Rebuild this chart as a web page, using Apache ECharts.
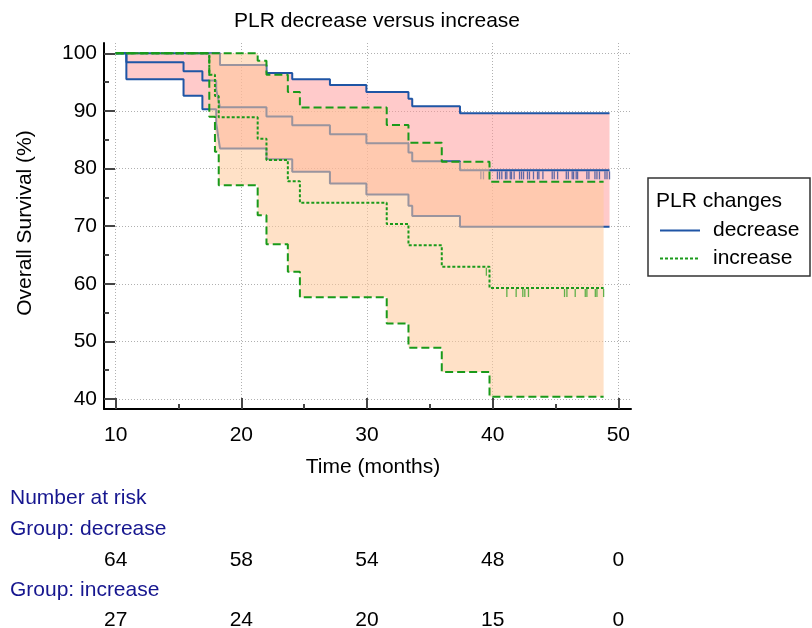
<!DOCTYPE html>
<html><head><meta charset="utf-8">
<script src="https://cdn.jsdelivr.net/npm/echarts@6/dist/echarts.min.js"></script>
<style>html,body{margin:0;padding:0;background:#fff}#c{width:812px;height:628px}</style>
</head><body><div id="c"></div>
<script>
// ---- tick labels ----
const xTicks = [10, 20, 30, 40, 50];
const xMinorTicks = [15, 25, 35, 45];
const yTicks = [40, 50, 60, 70, 80, 90, 100];
const yMinorTicks = [45, 55, 65, 75, 85, 95];

// ---- group "decrease" (Kaplan-Meier, step function) ----
const decTimes = [10, 10.85, 15.4, 16.9, 18.0, 18.15, 18.3, 22.0, 24.05, 27.05, 29.95, 33.3, 33.6, 37.4, 49.3];
const decSurv  = [100, 98.44, 96.88, 95.31, 93.75, 92.19, 90.63, 89.06, 87.5, 85.94, 84.38, 82.81, 81.25, 79.69, 79.69];
const decLower = [100, 95.5, 92.65, 90.3, 88.0, 85.7, 83.5, 81.6, 79.45, 77.4, 75.5, 73.55, 71.75, 69.9, 69.9];
const decUpper = [100, 100, 100, 100, 100, 100, 98.0, 96.6, 95.5, 94.5, 93.3, 92.1, 90.8, 89.6, 89.6];
const decCensor = [39.06, 39.27, 40.38, 40.55, 40.73, 41.02, 41.13, 41.4, 41.5, 41.71, 42.14, 42.3, 42.46, 42.77, 42.93,
  43.25, 43.57, 43.68, 44.0, 44.74, 44.9, 45.17, 45.86, 46.02, 46.33, 46.44, 46.65, 46.76, 47.5, 47.66, 48.14, 48.3,
  48.5, 48.94, 49.1, 49.3];

// ---- group "increase" ----
const incTimes = [10, 17.45, 17.9, 18.2, 21.3, 22.0, 23.7, 24.66, 31.57, 33.3, 35.95, 39.75, 48.83];
const incSurv  = [100, 96.3, 92.59, 88.89, 85.19, 81.48, 77.78, 74.07, 70.37, 66.67, 62.96, 59.26, 59.26];
const incLower = [100, 89.0, 82.9, 77.1, 71.9, 66.85, 62.1, 57.65, 53.1, 48.9, 44.7, 40.4, 40.4];
const incUpper = [100, 100, 100, 100, 98.7, 96.3, 93.3, 90.6, 87.55, 84.5, 81.2, 77.7, 77.7];
const incCensor = [39.5, 41.13, 41.87, 42.4, 42.56, 42.85, 45.72, 45.91, 46.57, 47.37, 47.5, 48.17, 48.3, 48.83];

// ---- number at risk ----
const riskTimes = [10, 20, 30, 40, 50];
const riskDecrease = [64, 58, 54, 48, 0];
const riskIncrease = [27, 24, 20, 15, 0];

const FONT = "'Liberation Sans', Arial, sans-serif";
const FS = 21;
const BLUE = '#1f55a5';
const GREEN = '#1a9a1a';
const TXTBLUE = '#16168f';
const xRange = [9.07, 51.01];
const yRange = [38.26, 101.8];

function stepAt(times, vals, t) {
  let v = vals[0];
  for (let i = 0; i < times.length; i++) { if (times[i] <= t) v = vals[i]; }
  return v;
}
function pairs(times, vals) { return times.map((t, i) => [t, vals[i]]); }

function band(times, lower, upper, color, z) {
  return {
    type: 'custom', xAxisIndex: 0, yAxisIndex: 0, z: z, silent: true, clip: true,
    data: [[times[0], upper[0]]],
    renderItem: function (params, api) {
      const pts = [];
      const n = times.length;
      for (let i = 0; i < n; i++) {
        pts.push(api.coord([times[i], upper[i]]));
        if (i < n - 1) pts.push(api.coord([times[i + 1], upper[i]]));
      }
      for (let i = n - 1; i >= 0; i--) {
        if (i < n - 1) pts.push(api.coord([times[i + 1], lower[i]]));
        pts.push(api.coord([times[i], lower[i]]));
      }
      return { type: 'polygon', shape: { points: pts }, style: { fill: color } };
    }
  };
}
function stepLine(name, times, vals, color, dash, z) {
  return {
    type: 'line', name: name, xAxisIndex: 0, yAxisIndex: 0, step: 'end', data: pairs(times, vals),
    symbol: 'none', showSymbol: false, z: z, silent: true,
    lineStyle: { color: color, width: 2, type: dash }, itemStyle: { color: color }
  };
}
function censor(times, survT, survV, color, z) {
  return {
    type: 'scatter', xAxisIndex: 0, yAxisIndex: 0, z: z, silent: true,
    data: times.map(t => [t, stepAt(survT, survV, t)]),
    symbol: 'rect', symbolSize: [1.3, 8], symbolOffset: [0, 5],
    itemStyle: { color: color, opacity: 1 }
  };
}

const chart = echarts.init(document.getElementById('c'), null, { renderer: 'canvas' });
const axisFont = { fontFamily: FONT, fontSize: FS, color: '#000' };

const option = {
  animation: false,
  backgroundColor: '#fff',
  grid: [
    { left: 104, top: 43, width: 527, height: 366 },
    { left: 104, top: 560, width: 527, height: 60 }
  ],
  xAxis: [
    {
      type: 'value', gridIndex: 0, min: xRange[0], max: xRange[1], position: 'bottom',
      axisLine: { show: true, onZero: false, lineStyle: { color: '#000', width: 2 } },
      axisTick: { show: true, inside: true, length: 11, customValues: xTicks, lineStyle: { color: '#444', width: 2 } },
      axisLabel: { show: true, customValues: xTicks, margin: 16, ...axisFont },
      splitLine: { show: true, lineStyle: { color: '#b0b0b0', width: 1, type: [1, 2] } }
    },
    {
      type: 'value', gridIndex: 0, min: xRange[0], max: xRange[1], position: 'bottom',
      axisLine: { show: false },
      axisTick: { show: true, inside: true, length: 5, customValues: xMinorTicks, lineStyle: { color: '#444', width: 2 } },
      axisLabel: { show: false }, splitLine: { show: false }
    },
    {
      type: 'value', gridIndex: 1, min: xRange[0], max: xRange[1], show: false
    }
  ],
  yAxis: [
    {
      type: 'value', gridIndex: 0, min: yRange[0], max: yRange[1], position: 'left',
      axisLine: { show: true, onZero: false, lineStyle: { color: '#000', width: 2 } },
      axisTick: { show: true, inside: true, length: 11, customValues: yTicks, lineStyle: { color: '#444', width: 2 } },
      axisLabel: { show: true, customValues: yTicks, margin: 7, ...axisFont },
      splitLine: { show: true, lineStyle: { color: '#b0b0b0', width: 1, type: [1, 2] } }
    },
    {
      type: 'value', gridIndex: 0, min: yRange[0], max: yRange[1], position: 'left',
      axisLine: { show: false },
      axisTick: { show: true, inside: true, length: 5, customValues: yMinorTicks, lineStyle: { color: '#444', width: 2 } },
      axisLabel: { show: false }, splitLine: { show: false }
    },
    {
      type: 'category', gridIndex: 1, data: ['increase', 'decrease'], boundaryGap: false, show: false
    }
  ],
  legend: {
    data: ['decrease', 'increase'], orient: 'vertical', left: 654, top: 215,
    itemWidth: 40, itemHeight: 14, itemGap: 7, selectedMode: false,
    itemStyle: { opacity: 0, borderWidth: 0 },
    textStyle: { fontFamily: FONT, fontSize: FS, color: '#000', padding: [0, 0, 0, 8] }
  },
  graphic: [
    { type: 'text', x: 377, y: 21, style: { text: 'PLR decrease versus increase', font: FS + 'px ' + FONT, fill: '#000', align: 'center', verticalAlign: 'middle' } },
    { type: 'text', x: 373, y: 467, style: { text: 'Time (months)', font: FS + 'px ' + FONT, fill: '#000', align: 'center', verticalAlign: 'middle' } },
    { type: 'text', x: 25, y: 223, rotation: Math.PI / 2, style: { text: 'Overall Survival (%)', font: FS + 'px ' + FONT, fill: '#000', align: 'center', verticalAlign: 'middle' } },
    { type: 'rect', shape: { x: 648, y: 178, width: 162, height: 98 }, style: { fill: 'none', stroke: '#333', lineWidth: 1.5 } },
    { type: 'text', x: 656, y: 201, style: { text: 'PLR changes', font: FS + 'px ' + FONT, fill: '#000', verticalAlign: 'middle' } },
    { type: 'text', x: 10, y: 498, style: { text: 'Number at risk', font: FS + 'px ' + FONT, fill: TXTBLUE, verticalAlign: 'middle' } },
    { type: 'text', x: 10, y: 529, style: { text: 'Group: decrease', font: FS + 'px ' + FONT, fill: TXTBLUE, verticalAlign: 'middle' } },
    { type: 'text', x: 10, y: 590, style: { text: 'Group: increase', font: FS + 'px ' + FONT, fill: TXTBLUE, verticalAlign: 'middle' } }
  ],
  series: [
    band(decTimes, decLower, decUpper, 'rgba(255,150,150,0.5)', 1),
    stepLine('decrease upper', decTimes, decUpper, BLUE, 'solid', 2),
    stepLine('decrease lower', decTimes, decLower, BLUE, 'solid', 2),
    stepLine('decrease', decTimes, decSurv, BLUE, 'solid', 2),
    censor(decCensor, decTimes, decSurv, '#5d68a6', 3),
    band(incTimes, incLower, incUpper, 'rgba(255,201,153,0.55)', 4),
    stepLine('increase upper', incTimes, incUpper, GREEN, [8, 4], 5),
    stepLine('increase lower', incTimes, incLower, GREEN, [8, 4], 5),
    stepLine('increase', incTimes, incSurv, GREEN, [3, 2], 5),
    censor(incCensor, incTimes, incSurv, '#62b04a', 6),
    {
      type: 'scatter', xAxisIndex: 2, yAxisIndex: 2, symbolSize: 0, silent: true,
      itemStyle: { opacity: 1 },
      data: riskTimes.map((t, i) => [t, 'decrease', riskDecrease[i]]).concat(riskTimes.map((t, i) => [t, 'increase', riskIncrease[i]])),
      label: { show: true, position: 'inside', formatter: p => String(p.value[2]), fontFamily: FONT, fontSize: FS, color: '#000', textBorderWidth: 0 }
    }
  ]
};
chart.setOption(option);
</script></body></html>
